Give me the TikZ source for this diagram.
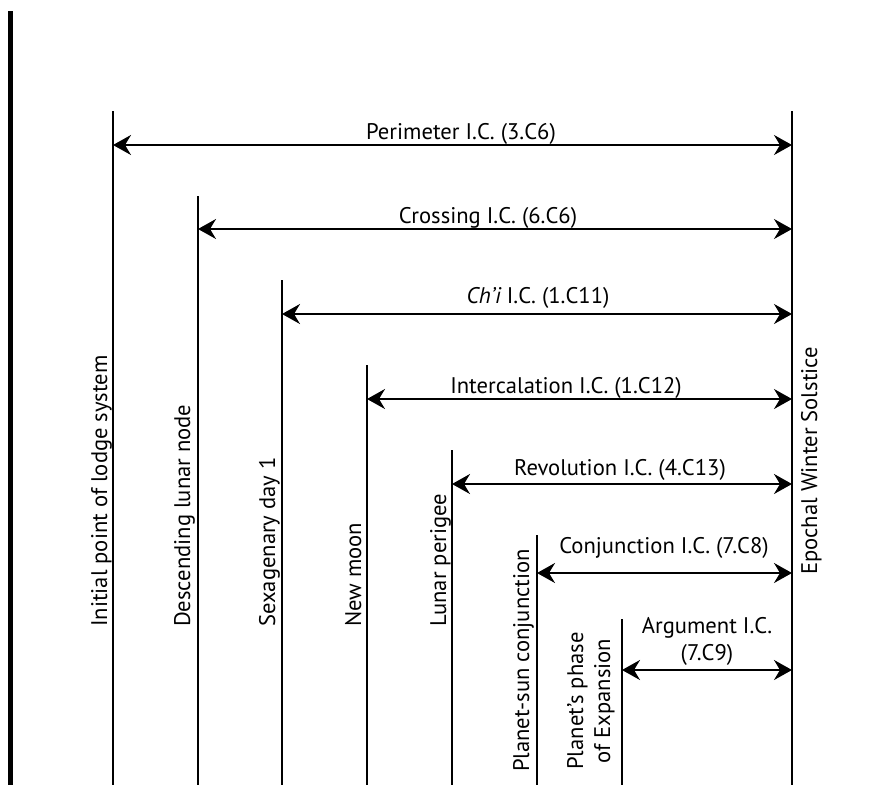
\documentclass[tikz,border=0pt]{standalone}
\usepackage{fontspec}
\setmainfont{PT Sans}
\usetikzlibrary{arrows.meta}
\begin{document}
\begin{tikzpicture}[x=1pt,y=-1pt,
  vline/.style={line width=2pt},
  span/.style={line width=2pt,
    {Stealth[length=18pt,width=20pt,inset=6pt]}-{Stealth[length=18pt,width=20pt,inset=6pt]}},
  lbl/.style={font=\fontsize{22.6}{27}\selectfont, inner sep=0pt},
  hlabel/.style={lbl, anchor=base},
  vlabel/.style={lbl, anchor=base west, rotate=90}]
\useasboundingbox (0,0) rectangle (884,785);
% thick margin bar
\draw[line width=4.3pt] (10.5,11) -- (10.5,785);
% vertical lines
\foreach \n/\x/\t in {1/113/111, 2/198/196, 3/282/280, 4/367/365, 5/452/450, 6/537/535, 7/622/619, 8/792/111}{
  \coordinate (t\n) at (\x,\t);
  \coordinate (b\n) at (\x,785);
  \draw[vline] (t\n) -- (b\n);
}
% arrow end points
\foreach \n/\x/\y in {1/113/145, 2/198/229, 3/282/314, 4/367/399, 5/452/484, 6/537/573, 7/622/670}{
  \coordinate (a\n) at (\x,\y);
  \coordinate (r\n) at (792,\y);
  \draw[span] (a\n) -- (r\n);
}
% horizontal labels
\node[hlabel] (l1) at (461,139) {Perimeter I.C. (3.C6)};
\node[hlabel] (l2) at (488,223) {Crossing I.C. (6.C6)};
\node[hlabel] (l3) at (538,303) {\itshape Ch’i\upshape{} I.C. (1.C11)};
\node[hlabel] (l4) at (566,393) {Intercalation I.C. (1.C12)};
\node[hlabel] (l5) at (620,475) {Revolution I.C. (4.C13)};
\node[hlabel] (l6) at (664,553) {Conjunction I.C. (7.C8)};
\node[lbl, align=center, anchor=south] (l7) at (707,666) {Argument I.C.\\(7.C9)};
% vertical labels
\node[vlabel] (v1) at (107,627) {Initial point of lodge system};
\node[vlabel] (v2) at (190,627) {Descending lunar node};
\node[vlabel] (v3) at (275,627) {Sexagenary day 1};
\node[vlabel] (v4) at (361,627) {New moon};
\node[vlabel] (v5) at (446,627) {Lunar perigee};
\node[vlabel] (v6) at (529,772) {Planet-sun conjunction};
\node[lbl, rotate=90, align=center] (v7) at (591,701) {Planet’s phase\\of Expansion};
\node[vlabel] (v8) at (817,575) {Epochal Winter Solstice};
\end{tikzpicture}
\end{document}
